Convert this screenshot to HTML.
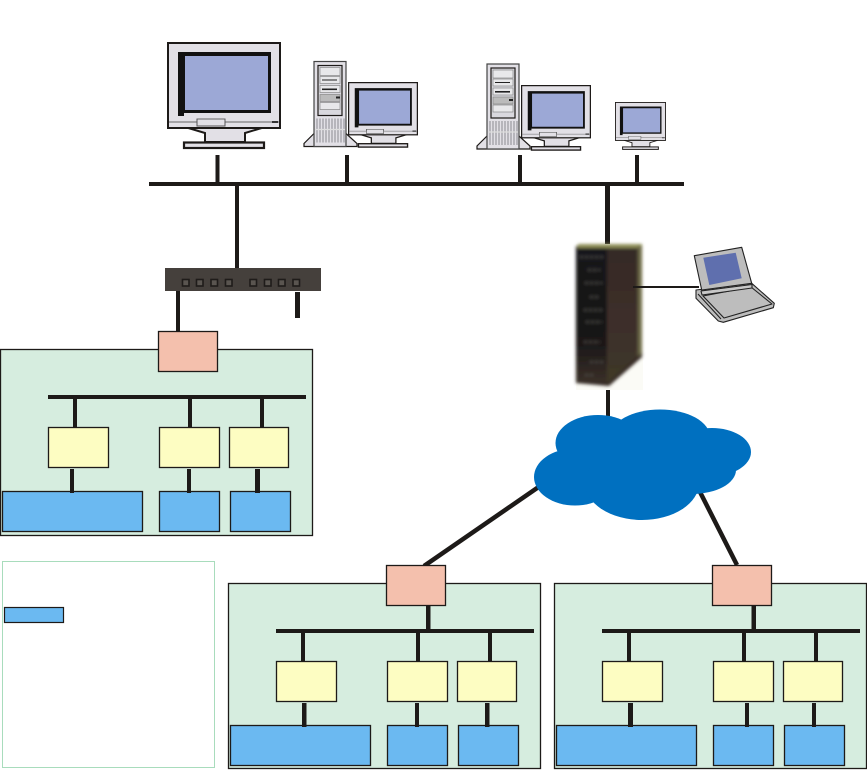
<!DOCTYPE html>
<html><head><meta charset="utf-8"><style>html,body{margin:0;padding:0;background:#fff;width:867px;height:770px;overflow:hidden}svg{display:block}</style></head>
<body>
<svg width="867" height="770" viewBox="0 0 867 770" xmlns="http://www.w3.org/2000/svg">
<defs>
<filter id="b" x="-10%" y="-10%" width="120%" height="120%"><feGaussianBlur stdDeviation="1.500"/></filter>
<linearGradient id="lf" x1="0" y1="0" x2="0" y2="1"><stop offset="0" stop-color="#14141a"/><stop offset=".7" stop-color="#1a1718"/><stop offset="1" stop-color="#3a3028"/></linearGradient>
<linearGradient id="rt" x1="0" y1="0" x2="0" y2="1"><stop offset="0" stop-color="#352a26"/><stop offset=".6" stop-color="#3e2f2a"/><stop offset="1" stop-color="#3f3a28"/></linearGradient>
<g id="mon">
<path d="M18 85L38 91V100H78V91L98 85Z" fill="#e2e0e6" stroke="#1d1a18" stroke-width="2"/>
<rect x="17" y="100.500" width="80" height="5.500" fill="#e2e0e6" stroke="#1d1a18" stroke-width="2.200"/>
<rect x="1" y="1" width="112" height="85" fill="#e2e0e6" stroke="#1d1a18" stroke-width="2"/>
<path d="M11 10H104V71H17V74H11Z" fill="#111"/>
<rect x="18" y="14" width="83" height="54" fill="#9ca8d6"/>
<path d="M2 80H30V77H58V80H112" fill="none" stroke="#666" stroke-width="1"/>
<path d="M30 77V84H58V77" fill="none" stroke="#555" stroke-width="1"/>
<rect x="105" y="79" width="6" height="2" fill="#333"/>
</g>
<g id="tower">
<path d="M11 72L1 82V85H54V82L43 72Z" fill="#e2e0e6" stroke="#1d1a18" stroke-width="1.200"/>
<rect x="11" y="0" width="32" height="85" fill="#e2e0e6" stroke="#444" stroke-width="1.200"/>
<rect x="15" y="4" width="24" height="50" fill="#d9d8de" stroke="#1d1a18" stroke-width="1.200"/>
<rect x="17" y="6" width="20" height="8" fill="#e8e8ea" stroke="#888" stroke-width=".7"/>
<rect x="17" y="15" width="20" height="7" fill="#e8e8ea" stroke="#888" stroke-width=".7"/>
<rect x="19" y="18" width="15" height="1" fill="#222"/>
<rect x="17" y="24" width="20" height="7" fill="#e8e8ea" stroke="#888" stroke-width=".7"/>
<rect x="19" y="27" width="15" height="1.600" fill="#222"/>
<rect x="17" y="33" width="20" height="7" fill="#bbb" stroke="#888" stroke-width=".7"/>
<rect x="33" y="35" width="4" height="2" fill="#222"/>
<rect x="17" y="41" width="20" height="7" fill="#e8e8ea" stroke="#888" stroke-width=".7"/>
<path d="M14 57V81M17 57V81M20 57V81M23 57V81M26 57V81M29 57V81M32 57V81M35 57V81M38 57V81M41 57V81" stroke="#8a8a90" stroke-width="1"/>
<path d="M12 68H42" stroke="#ddd" stroke-width="1.200"/>
</g>
</defs>

<!-- top bus -->
<g fill="#1d1a18">
<rect x="149" y="182" width="535" height="4"/>
<rect x="215.500" y="155" width="4" height="29"/>
<rect x="345" y="155" width="4" height="29"/>
<rect x="518" y="155" width="4" height="29"/>
<rect x="635" y="155" width="4" height="29"/>
<rect x="235" y="184" width="4" height="85"/>
<rect x="605" y="184" width="5" height="60"/>
<rect x="176" y="291" width="4" height="40"/>
<rect x="295" y="292" width="5" height="26"/>
<rect x="606" y="390" width="4" height="30"/>
</g>
<path d="M424 566L540 486M699 490L737 565" stroke="#1d1a18" stroke-width="4.500" fill="none"/>

<!-- computers -->
<use href="#mon" transform="translate(167,42)"/>
<use href="#tower" transform="translate(303,61.500)"/>
<use href="#mon" transform="translate(348,82) scale(.614,.614)"/>
<use href="#tower" transform="translate(476,64)"/>
<use href="#mon" transform="translate(521,85) scale(.614,.614)"/>
<use href="#mon" transform="translate(615,102) scale(.447,.447)"/>

<!-- switch -->
<rect x="165" y="268" width="156" height="23" fill="#45403c"/>
<g fill="#5a5550" stroke="#1f1c1a" stroke-width="1.600">
<rect x="182.500" y="279.500" width="6.500" height="6.500"/><rect x="196.500" y="279.500" width="6.500" height="6.500"/>
<rect x="211" y="279.500" width="6.500" height="6.500"/><rect x="225.500" y="279.500" width="6.500" height="6.500"/>
<rect x="250" y="279.500" width="6.500" height="6.500"/><rect x="264.500" y="279.500" width="6.500" height="6.500"/>
<rect x="278.500" y="279.500" width="6.500" height="6.500"/><rect x="293" y="279.500" width="6.500" height="6.500"/>
</g>

<!-- server -->
<g>
<rect x="576" y="244" width="67" height="146" fill="#fbfbf6"/>
<g filter="url(#b)">
<path d="M576 246H642V357L609 386L576 383Z" fill="#332824"/>
<path d="M576 248H607V383L576 381Z" fill="url(#lf)"/>
<path d="M607 248H638V356L607 384Z" fill="url(#rt)"/>
<path d="M578 244H642V248H578Z" fill="#8f9058"/>
<path d="M638 246H642V352L638 357Z" fill="#6e6c48"/>
<path d="M580 257H605M588 270H600M585 283H602M590 297H600M584 310H604M586 322H602M584 342H600M590 362H604M585 375H595" stroke="#55524f" stroke-width="1.600" stroke-dasharray="3 2"/>
</g>
</g>
<rect x="633" y="286" width="66" height="2" fill="#1d1a18"/>

<!-- laptop -->
<g stroke="#222" stroke-width="1.100" stroke-linejoin="round">
<path d="M696 290L751.700 283.300L774.300 303.300L773.300 307.700L723.300 322.300L718.300 321L696 298.300Z" fill="#bdbdbd"/>
<path d="M694.300 255.700L741.700 247.300L751.700 283.300L701.700 290Z" fill="#bdbdbd"/>
<path d="M703.300 257.700L735.700 252.700L741.700 278.300L709.300 285Z" fill="#5f6fae" stroke="none"/>
<path d="M703 296L751 287L772 304L724 318ZM698 294L721 319" fill="none"/>
<path d="M701 291L752 284.500V288L702 295Z" fill="#c8c8c8"/>
</g>

<!-- cloud -->
<g fill="#0070c0">
<ellipse cx="598" cy="443" rx="42.500" ry="28"/>
<ellipse cx="660" cy="437" rx="50" ry="27.500"/>
<ellipse cx="712" cy="452" rx="39" ry="24"/>
<ellipse cx="575" cy="477" rx="41" ry="28.500"/>
<ellipse cx="642" cy="483" rx="57" ry="37"/>
<ellipse cx="692" cy="470" rx="44" ry="24"/>
<rect x="590" y="440" width="110" height="50"/>
</g>

<!-- group 1 -->
<g stroke="#1d1a18" stroke-width="1.300">
<rect x="0.500" y="349.500" width="312" height="186" fill="#d6eddf"/>
<rect x="158.500" y="331.500" width="59" height="40" fill="#f4c0ad"/>
<rect x="48.500" y="427.500" width="60" height="40" fill="#fdfdc2"/>
<rect x="159.500" y="427.500" width="60" height="40" fill="#fdfdc2"/>
<rect x="229.500" y="427.500" width="59" height="40" fill="#fdfdc2"/>
<rect x="2.500" y="491.500" width="140" height="40" fill="#6bb9f1"/>
<rect x="159.500" y="491.500" width="60" height="40" fill="#6bb9f1"/>
<rect x="230.500" y="491.500" width="60" height="40" fill="#6bb9f1"/>
</g>
<g fill="#1d1a18">
<rect x="48" y="395" width="258" height="4"/>
<rect x="73" y="399" width="4" height="28"/>
<rect x="188" y="399" width="4" height="28"/>
<rect x="260" y="399" width="4" height="28"/>
<rect x="70" y="469" width="4" height="24"/>
<rect x="187" y="469" width="4" height="24"/>
<rect x="255" y="469" width="5" height="24"/>
</g>

<!-- group 2 -->
<g stroke="#1d1a18" stroke-width="1.300">
<rect x="228.500" y="583.500" width="312" height="185" fill="#d6eddf"/>
<rect x="386.500" y="565.500" width="59" height="40" fill="#f4c0ad"/>
<rect x="276.500" y="661.500" width="60" height="40" fill="#fdfdc2"/>
<rect x="387.500" y="661.500" width="60" height="40" fill="#fdfdc2"/>
<rect x="457.500" y="661.500" width="59" height="40" fill="#fdfdc2"/>
<rect x="230.500" y="725.500" width="140" height="40" fill="#6bb9f1"/>
<rect x="387.500" y="725.500" width="60" height="40" fill="#6bb9f1"/>
<rect x="458.500" y="725.500" width="60" height="40" fill="#6bb9f1"/>
</g>
<g fill="#1d1a18">
<rect x="276" y="629" width="258" height="4"/>
<rect x="426" y="605" width="4.500" height="25"/>
<rect x="301" y="633" width="4" height="28"/>
<rect x="416" y="633" width="4" height="28"/>
<rect x="488" y="633" width="4" height="28"/>
<rect x="302" y="703" width="4.500" height="24"/>
<rect x="415" y="703" width="4" height="24"/>
<rect x="485" y="703" width="4.500" height="24"/>
</g>

<!-- group 3 -->
<g stroke="#1d1a18" stroke-width="1.300">
<rect x="554.500" y="583.500" width="312" height="185" fill="#d6eddf"/>
<rect x="712.500" y="565.500" width="59" height="40" fill="#f4c0ad"/>
<rect x="602.500" y="661.500" width="60" height="40" fill="#fdfdc2"/>
<rect x="713.500" y="661.500" width="60" height="40" fill="#fdfdc2"/>
<rect x="783.500" y="661.500" width="59" height="40" fill="#fdfdc2"/>
<rect x="556.500" y="725.500" width="140" height="40" fill="#6bb9f1"/>
<rect x="713.500" y="725.500" width="60" height="40" fill="#6bb9f1"/>
<rect x="784.500" y="725.500" width="60" height="40" fill="#6bb9f1"/>
</g>
<g fill="#1d1a18">
<rect x="602" y="629" width="258" height="4"/>
<rect x="751.500" y="605" width="4.500" height="25"/>
<rect x="627" y="633" width="4" height="28"/>
<rect x="742" y="633" width="4" height="28"/>
<rect x="814" y="633" width="4" height="28"/>
<rect x="628" y="703" width="5" height="24"/>
<rect x="745" y="703" width="4" height="24"/>
<rect x="812" y="703" width="4" height="24"/>
</g>

<!-- legend -->
<rect x="2.500" y="561.500" width="212" height="206" fill="#fff" stroke="#a8dcbc" stroke-width="1"/>
<rect x="4.500" y="607.500" width="59" height="15" fill="#6bb9f1" stroke="#1d1a18" stroke-width="1.200"/>
</svg>
</body></html>
